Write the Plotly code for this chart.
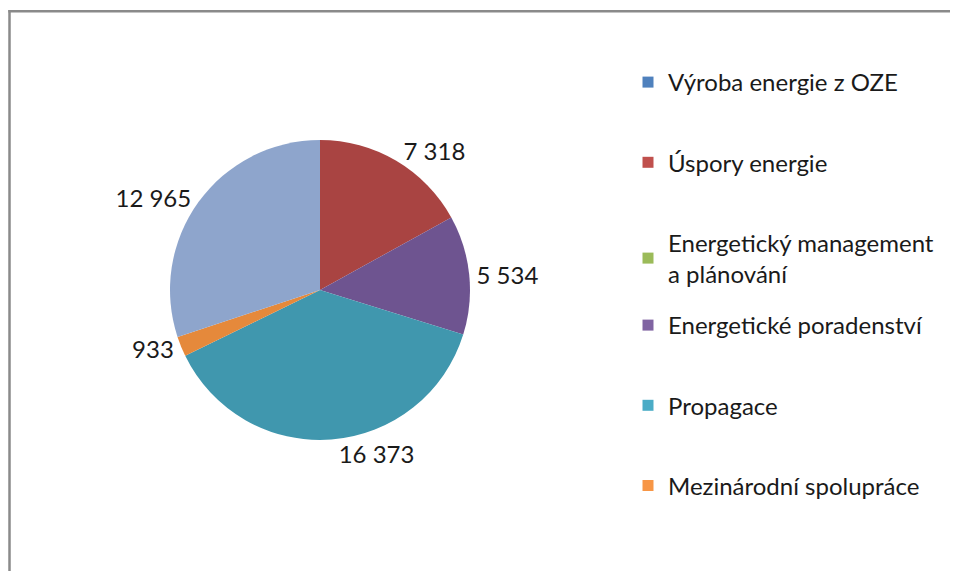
import plotly.graph_objects as go

# Data
categories = ["Výroba energie z OZE", "Úspory energie", "Energetický management<br>a plánování",
              "Energetické poradenství", "Propagace", "Mezinárodní spolupráce", "Ostatní"]
values = [0, 7318, 0, 5534, 16373, 933, 12965]
legend_colors = ["#4F81BD", "#C0504D", "#9BBB59", "#8064A2", "#4BACC6", "#F79646", "#8EA5CC"]
slice_colors = ["#4F81BD", "#A94442", "#9BBB59", "#6E5490", "#4097AE", "#E5893B", "#8EA5CC"]
legend_count = 6

def fmt(v):
    return f"{v:,}".replace(",", " ")

# only non-zero slices are drawn
idx = [i for i, v in enumerate(values) if v > 0]

# page body has an 8px margin; figure is sized so the page does not scroll
OFF = 8
W, H = 942, 563
cx, cy, r = 320 - OFF, 290 - OFF, 150

FONT = "Lato"
FS = 24
TXT = "#1a1a1a"

fig = go.Figure()
fig.add_trace(go.Pie(
    labels=[categories[i] for i in idx],
    values=[values[i] for i in idx],
    text=[fmt(values[i]) for i in idx],
    textinfo="text",
    textposition="outside",
    textfont=dict(family=FONT, size=FS, color=TXT),
    marker=dict(colors=[slice_colors[i] for i in idx], line=dict(width=0)),
    sort=False,
    direction="clockwise",
    rotation=0,
    showlegend=False,
    hoverinfo="label+value",
    domain=dict(x=[(cx - r) / W, (cx + r) / W], y=[1 - (cy + r) / H, 1 - (cy - r) / H]),
))

for i in range(legend_count):
    fig.add_trace(go.Scatter(
        x=[None], y=[None], mode="markers",
        marker=dict(symbol="square", size=11, color=legend_colors[i]),
        name=categories[i], legendgroup=str(i), showlegend=True,
        legend="legend" if i < 3 else "legend2",
    ))

leg_common = dict(
    xanchor="left", yanchor="top",
    font=dict(family=FONT, size=FS, color=TXT),
    traceorder="grouped", tracegroupgap=46,
    itemwidth=30, bgcolor="rgba(0,0,0,0)",
)

border = dict(color="#8a8a8a", width=2.5)
fig.update_layout(
    width=W, height=H,
    margin=dict(l=0, r=0, t=0, b=0),
    paper_bgcolor="white", plot_bgcolor="white",
    xaxis=dict(visible=False), yaxis=dict(visible=False),
    font=dict(family=FONT, size=FS, color=TXT),
    legend=dict(x=(628 - OFF) / W, y=1 - (60 - OFF) / H, **leg_common),
    legend2=dict(x=(628 - OFF) / W, y=1 - (303 - OFF) / H, **leg_common),
    shapes=[
        dict(type="line", xref="paper", yref="paper",
             x0=1.5 / W, x1=1.5 / W, y0=0, y1=1 - 2.1 / H, line=border),
        dict(type="line", xref="paper", yref="paper",
             x0=0.3 / W, x1=1, y0=1 - 3.3 / H, y1=1 - 3.3 / H, line=border),
    ],
)

fig.write_html("out.html")
